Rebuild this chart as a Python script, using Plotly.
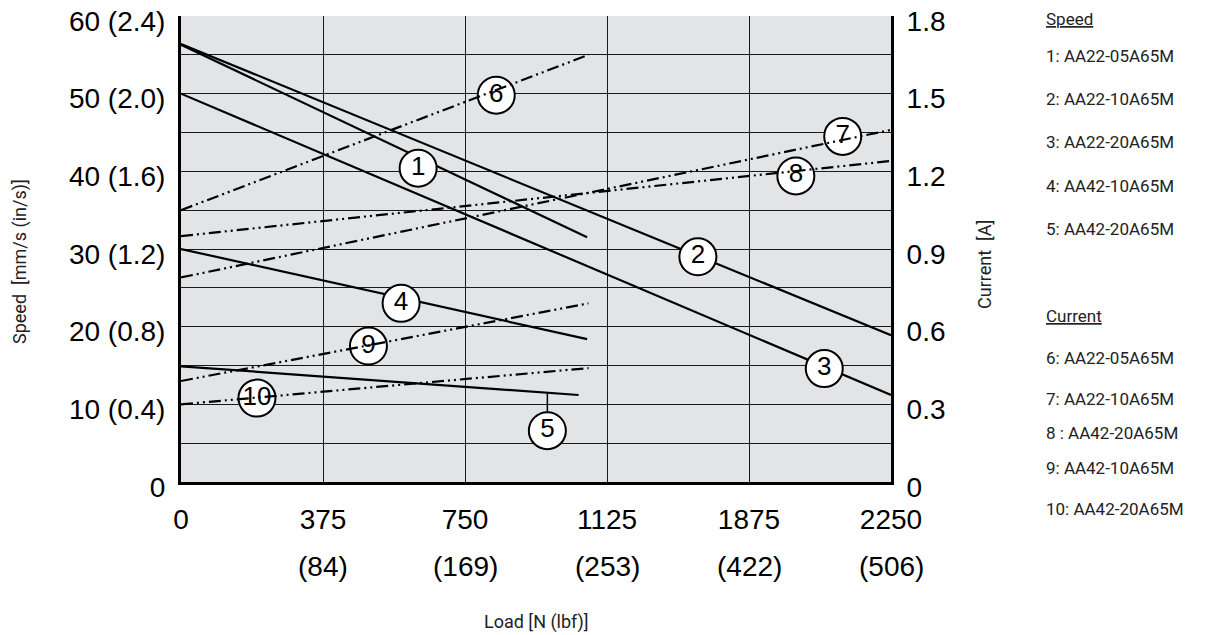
import plotly.graph_objects as go
import numpy as np

# ---- data (x in grid positions of the load axis, 0..5) ----
load_ticks_pos = [0, 1, 2, 3, 4, 5]
load_ticks_n = ["0", "375", "750", "1125", "1875", "2250"]
load_ticks_lbf = ["", "(84)", "(169)", "(253)", "(422)", "(506)"]

speed_ticks = [0, 10, 20, 30, 40, 50, 60]
speed_ticklabels = ["0", "10 (0.4)", "20 (0.8)", "30 (1.2)", "40 (1.6)", "50 (2.0)", "60 (2.4)"]
current_ticks = [0, 0.3, 0.6, 0.9, 1.2, 1.5, 1.8]
current_ticklabels = ["0", "0.3", "0.6", "0.9", "1.2", "1.5", "1.8"]

# speed curves [mm/s]
speed_names = ["1", "2", "3", "4", "5"]
speed_x = [[0, 2.86], [0, 5.0], [0, 5.0], [0, 2.86], [0, 2.80]]
speed_y = [[56.3, 31.5], [56.4, 18.9], [50.0, 11.2], [30.0, 18.4], [14.9, 11.2]]

# current curves [A]
current_names = ["6", "7", "8", "9", "10"]
current_x = [[0, 2.87], [0, 5.0], [0, 5.0], [0, 2.87], [0, 2.87]]
current_y = [[1.05, 1.65], [0.79, 1.36], [0.95, 1.24], [0.39, 0.69], [0.30, 0.44]]

# circled label positions (x grid position, y in speed units)
label_text = ["1", "2", "3", "4", "5", "6", "7", "8", "9", "10"]
label_x = [1.67, 3.64, 4.53, 1.55, 2.58, 2.22, 4.66, 4.33, 1.32, 0.535]
label_y = [40.4, 29.0, 14.6, 23.0, 6.6, 49.8, 44.5, 39.4, 17.5, 10.8]

legend_speed = ["1: AA22-05A65M", "2: AA22-10A65M", "3: AA22-20A65M",
                "4: AA42-10A65M", "5: AA42-20A65M"]
legend_current = ["6: AA22-05A65M", "7: AA22-10A65M", "8 : AA42-20A65M",
                  "9: AA42-10A65M", "10: AA42-20A65M"]

NARROW = "Roboto, sans-serif"
ARIAL = "Liberation Sans, Arial, sans-serif"
TXT = "#222222"

# page offset of the figure (body margin), figure size and plot area
OFF = 7
W, H = 1213 - OFF, 635 - OFF
plot_l, plot_r, plot_t, plot_b = 180 - OFF, 890 - OFF, 15 - OFF, 481 - OFF
ML, MR, MT, MB = plot_l, W - plot_r, plot_t, H - plot_b


def px_to_paper(px, py):
    # px, py given in screen pixels
    px -= OFF
    py -= OFF
    return (px - plot_l) / (plot_r - plot_l), (plot_b - py) / (plot_b - plot_t)


fig = go.Figure()

for xs, ys in zip(speed_x, speed_y):
    fig.add_trace(go.Scatter(x=xs, y=ys, mode="lines", yaxis="y",
                             line=dict(color="black", width=2.2),
                             showlegend=False, hoverinfo="skip"))

for xs, ys in zip(current_x, current_y):
    fig.add_trace(go.Scatter(x=xs, y=ys, mode="lines", yaxis="y2",
                             line=dict(color="black", width=2.2,
                                       dash="12px,4px,2px,4px,2px,4px"),
                             showlegend=False, hoverinfo="skip"))

# stub connecting label 5 to its line
i5 = 4
stub_y0 = float(np.interp(label_x[i5], speed_x[i5], speed_y[i5]))
fig.add_trace(go.Scatter(x=[label_x[i5], label_x[i5]], y=[stub_y0, label_y[i5]],
                         mode="lines", line=dict(color="black", width=1.5),
                         showlegend=False, hoverinfo="skip"))

fig.add_trace(go.Scatter(x=label_x, y=label_y, mode="markers+text",
                         text=label_text, textposition="middle center",
                         textfont=dict(family=ARIAL, size=26, color="black"),
                         marker=dict(size=37, color="white",
                                     line=dict(color="black", width=2)),
                         showlegend=False, hoverinfo="skip"))

fig.update_layout(
    width=W, height=H,
    margin=dict(l=ML, r=MR, t=MT, b=MB),
    paper_bgcolor="white",
    plot_bgcolor="#e3e4e6",
    xaxis=dict(range=[0, 5], tickvals=load_ticks_pos, ticktext=load_ticks_n,
               showgrid=True, gridcolor="#1a1a1a", gridwidth=1.3,
               showline=True, linecolor="black", linewidth=3,
               ticks="", zeroline=False, automargin=False,
               ticklabelstandoff=10, ticklabeloverflow="allow",
               tickfont=dict(family=ARIAL, size=28, color="black")),
    yaxis=dict(range=[0, 60],
               tickvals=list(range(0, 61, 5)),
               ticktext=[speed_ticklabels[speed_ticks.index(v)] if v in speed_ticks else ""
                         for v in range(0, 61, 5)],
               showgrid=True, gridcolor="#1a1a1a", gridwidth=1.3,
               showline=True, linecolor="black", linewidth=3,
               ticks="", zeroline=False, automargin=False,
               ticklabelstandoff=7, ticklabelshift=5, ticklabeloverflow="allow",
               tickfont=dict(family=ARIAL, size=28, color="black")),
    yaxis2=dict(range=[0, 1.8], overlaying="y", side="right",
                tickvals=current_ticks, ticktext=current_ticklabels,
                showgrid=False, showline=True, linecolor="black", linewidth=3,
                ticks="", zeroline=False, automargin=False,
                ticklabelstandoff=7, ticklabelshift=5, ticklabeloverflow="allow",
                tickfont=dict(family=ARIAL, size=28, color="black")),
)

# second row of load tick labels (lbf)
for xp, t in zip(load_ticks_pos, load_ticks_lbf):
    if t:
        fig.add_annotation(x=xp, y=0, xref="x", yref="paper", text=t,
                           showarrow=False, yanchor="middle", yshift=-84,
                           font=dict(family=ARIAL, size=28, color="black"))

# axis titles
ax, ay = px_to_paper(535, 621)
fig.add_annotation(x=ax, y=ay, xref="paper", yref="paper", text="Load [N (lbf)]",
                   showarrow=False, xanchor="center", yanchor="middle",
                   font=dict(family=NARROW, size=18, color=TXT))
ax, ay = px_to_paper(19, 261)
fig.add_annotation(x=ax, y=ay, xref="paper", yref="paper", text="Speed  [mm/s (in/s)]",
                   showarrow=False, textangle=-90, xanchor="center", yanchor="middle",
                   font=dict(family=NARROW, size=18, color=TXT))
ax, ay = px_to_paper(983, 264)
fig.add_annotation(x=ax, y=ay, xref="paper", yref="paper", text="Current  [A]",
                   showarrow=False, textangle=-90, xanchor="center", yanchor="middle",
                   font=dict(family=NARROW, size=18, color=TXT))

# side legend text
leg_x = 1043
side = [("<u>Speed</u>", 18)] + list(zip(legend_speed, [55, 98, 141, 185, 228])) \
    + [("<u>Current</u>", 315)] + list(zip(legend_current, [357, 398, 432, 467, 508]))
for t, yy in side:
    ax, ay = px_to_paper(leg_x, yy)
    fig.add_annotation(x=ax, y=ay, xref="paper", yref="paper", text=t,
                       showarrow=False, xanchor="left", yanchor="middle",
                       font=dict(family=NARROW, size=17, color=TXT))

fig.write_html("out.html")
